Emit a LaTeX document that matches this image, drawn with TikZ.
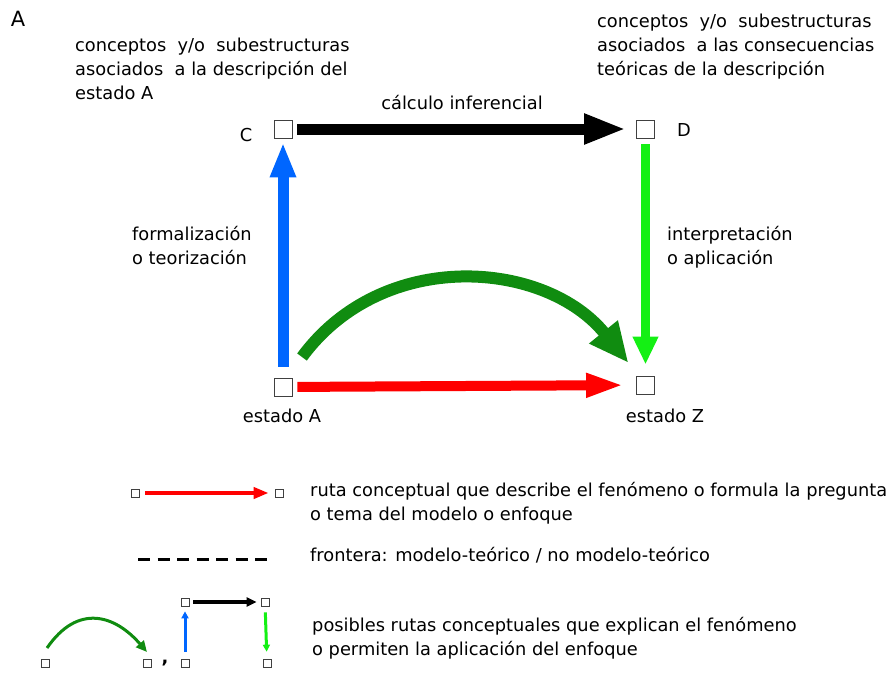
\documentclass[tikz,border=0pt]{standalone}
\usepackage{fontspec}
\setmainfont{DejaVu Sans}
\usetikzlibrary{arrows.meta,calc}

\definecolor{azulF}{RGB}{0,102,255}
\definecolor{verdeL}{RGB}{20,240,20}
\definecolor{verdeO}{RGB}{16,140,16}
\definecolor{rojoR}{RGB}{255,0,0}

\tikzset{
  caja/.style={draw=black!75, line width=0.9pt, fill=white, minimum size=18pt, inner sep=0pt},
  cajita/.style={draw=black!75, line width=0.7pt, fill=white, minimum size=8pt, inner sep=0pt},
  texto/.style={inner sep=0pt, align=left, font=\fontsize{17.8}{24}\selectfont},
}

\begin{document}
\begin{tikzpicture}[x=1pt,y=1pt,yscale=-1]
\useasboundingbox (0,0) rectangle (896,675);

%Shape: boxes of the square
\node [caja] (nodoC) at (283,129) {};
\node [caja] (nodoD) at (645.5,129) {};
\node [caja] (estA) at (283,387) {};
\node [caja] (estZ) at (645.5,385) {};

%Shape: arrows of the square
\draw [line width=11pt, black, shorten <=5pt, shorten >=10pt, -{Triangle[length=42pt,width=28pt]}] (nodoC) -- (nodoD);
\draw [line width=11pt, azulF, shorten <=11pt, shorten >=4pt, -{Triangle[length=35pt,width=24pt]}] (estA) -- (nodoC);
\draw [line width=9pt, verdeL, shorten <=6pt, shorten >=11pt, -{Triangle[length=28pt,width=24pt]}] (nodoD) -- (estZ);
\draw [line width=10pt, rojoR, shorten <=5pt, shorten >=12pt, -{Triangle[length=38pt,width=22pt]}] (estA) -- (estZ);
%Shape: curved arrow
\draw [line width=12pt, verdeO, -{Triangle[length=40pt,width=34pt]}] ($(estA)+(19,-30)$) .. controls ($(estA)+(100,-140)$) and ($(estZ)+(-100,-125)$) .. ($(estZ)+(-17,-22)$);

% Text Node
\node [texto, font=\fontsize{21}{24}\selectfont] (letra) at (18,19) {A};
% Text Node
\node [texto, anchor=north west] (txtC) at (75,38) {conceptos~ y/o~ subestructuras\\asociados~ a la descripción del\\estado A};
% Text Node
\node [texto, anchor=north west] (txtD) at (597,14) {conceptos~ y/o~ subestructuras\\asociados~ a las consecuencias\\teóricas de la descripción};
% Text Node
\node [texto] (calc) at (462,103) {cálculo inferencial};
% Text Node
\node [texto] (labC) at (246,135) {C};
% Text Node
\node [texto] (labD) at (684,130) {D};
% Text Node
\node [texto, anchor=north west] (formal) at (132,226) {formalización\\o teorización};
% Text Node
\node [texto, anchor=north west] (interp) at (667,226) {interpretación\\o aplicación};
% Text Node
\node [texto] (labA) at (282,416) {estado A};
% Text Node
\node [texto] (labZ) at (665,416) {estado Z};

%Shape: legend, red route
\node [cajita] (leyA) at (135,493) {};
\node [cajita] (leyB) at (279,493) {};
\draw [line width=4pt, rojoR, shorten <=6pt, shorten >=6pt, -{Triangle[length=15pt,width=11pt]}] (leyA) -- (leyB);
\node [texto, anchor=north west] (leyRuta) at (310,482) {ruta conceptual que describe el fenómeno o formula la pregunta\\o tema del modelo o enfoque};

%Shape: legend, border
\draw [line width=3pt, dash pattern=on 12pt off 7.5pt] (138,559) -- (272,559);
\node [texto, anchor=west] (leyFront) at (310,555) {frontera: modelo-teórico / no modelo-teórico};

%Shape: legend, possible routes
\node [cajita] (leyC1) at (45,663) {};
\node [cajita] (leyC2) at (147,663) {};
\draw [line width=3pt, verdeO, -{Triangle[length=11pt,width=10pt]}] ($(leyC1)+(2,-15)$) .. controls ($(leyC1)+(33,-60)$) and ($(leyC2)+(-32,-48)$) .. ($(leyC2)+(0,-11)$);
\node [texto] (coma) at (165,663) {\textbf{,}};
\node [cajita] (leyP) at (185,602) {};
\node [cajita] (leyQ) at (265,602) {};
\node [cajita] (leyR) at (185,663) {};
\node [cajita] (leyS) at (267,663) {};
\draw [line width=4pt, black, shorten <=4pt, shorten >=4pt, -{Triangle[length=10pt,width=9pt]}] (leyP) -- (leyQ);
\draw [line width=3pt, azulF, shorten <=7pt, shorten >=5pt, -{Triangle[length=7pt,width=7pt]}] (leyR) -- (leyP);
\draw [line width=3pt, verdeL, shorten <=6pt, shorten >=7pt, -{Triangle[length=7pt,width=7pt]}] (leyQ) -- (leyS);
\node [texto, anchor=north west] (leyPos) at (312,617) {posibles rutas conceptuales que explican el fenómeno\\o permiten la aplicación del enfoque};

\end{tikzpicture}
\end{document}
